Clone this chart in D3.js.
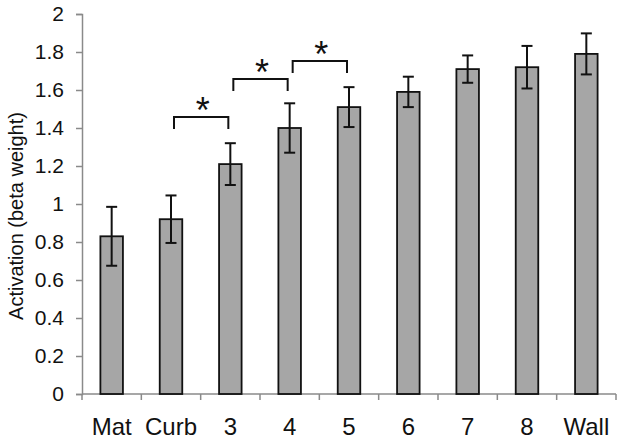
<!DOCTYPE html>
<html>
<head>
<meta charset="utf-8">
<script src="https://cdn.jsdelivr.net/npm/d3@7"></script>
<style>
  html, body { margin: 0; padding: 0; background: #fff; }
  svg { display: block; font-family: "Liberation Sans", Arial, sans-serif; }
</style>
</head>
<body>
<svg id="chart" width="624" height="444"></svg>
<script>
const categories = ["Mat", "Curb", "3", "4", "5", "6", "7", "8", "Wall"];
const values = [0.83, 0.92, 1.21, 1.40, 1.51, 1.59, 1.71, 1.72, 1.79];
const errors = [0.155, 0.125, 0.11, 0.13, 0.105, 0.08, 0.072, 0.112, 0.108];
const yTicks = [0, 0.2, 0.4, 0.6, 0.8, 1, 1.2, 1.4, 1.6, 1.8, 2];
const yTickLabels = ["0", "0.2", "0.4", "0.6", "0.8", "1", "1.2", "1.4", "1.6", "1.8", "2"];
const bracketFrom = ["Curb", "3", "4"];
const bracketTo = ["3", "4", "5"];
const bracketLevel = [1.458, 1.658, 1.753];
const bracketMark = ["*", "*", "*"];
const yTitle = "Activation (beta weight)";

const svg = d3.select("#chart");
const mLeft = 82, mRight = 616, mTop = 14, mBottom = 394;

const x = d3.scaleBand().domain(categories).range([mLeft, mRight])
  .paddingInner(0.595).paddingOuter(0.2975);
const y = d3.scaleLinear().domain([0, 2]).range([mBottom, mTop]);
const axisColor = "#8a8a8a";

// Y axis
const yAxis = d3.axisLeft(y).tickValues(yTicks)
  .tickFormat((d, i) => yTickLabels[i]).tickSize(6).tickPadding(12);
const gy = svg.append("g").attr("transform", `translate(${mLeft},0)`).call(yAxis);
gy.attr("font-family", null).attr("font-size", null);
gy.select(".domain").attr("stroke", axisColor).attr("stroke-width", 1.5);
gy.selectAll(".tick line").attr("stroke", axisColor).attr("stroke-width", 1.5);
gy.selectAll(".tick text").attr("font-size", 21).attr("fill", "#111");

// X axis (ticks at category boundaries)
const boundaries = d3.range(categories.length + 1).map(i => mLeft + i * (mRight - mLeft) / categories.length);
svg.append("line").attr("x1", mLeft).attr("x2", mRight).attr("y1", mBottom).attr("y2", mBottom)
  .attr("stroke", axisColor).attr("stroke-width", 1.5);
svg.append("g").selectAll("line").data(boundaries).join("line")
  .attr("x1", d => d).attr("x2", d => d).attr("y1", mBottom).attr("y2", mBottom + 6)
  .attr("stroke", axisColor).attr("stroke-width", 1.5);
svg.append("g").selectAll("text").data(categories).join("text")
  .attr("x", d => x(d) + x.bandwidth() / 2).attr("y", 435)
  .attr("text-anchor", "middle").attr("font-size", 24).attr("fill", "#111")
  .text(d => d);

// Bars
svg.append("g").selectAll("rect").data(categories).join("rect")
  .attr("x", d => x(d) + 0.75).attr("width", x.bandwidth() - 1.5)
  .attr("y", (d, i) => y(values[i])).attr("height", (d, i) => y(0) - y(values[i]))
  .attr("fill", "#a6a6a6").attr("stroke", "#111").attr("stroke-width", 1.8);

// Error bars
const eb = svg.append("g").attr("stroke", "#111").attr("stroke-width", 2);
categories.forEach((c, i) => {
  const cx = x(c) + x.bandwidth() / 2;
  const hi = y(values[i] + errors[i]), lo = y(values[i] - errors[i]);
  eb.append("line").attr("x1", cx).attr("x2", cx).attr("y1", hi).attr("y2", lo);
  eb.append("line").attr("x1", cx - 5.5).attr("x2", cx + 5.5).attr("y1", hi).attr("y2", hi);
  eb.append("line").attr("x1", cx - 5.5).attr("x2", cx + 5.5).attr("y1", lo).attr("y2", lo);
});

// Significance brackets
const br = svg.append("g");
bracketFrom.forEach((a, i) => {
  const xa = x(a) + x.bandwidth() / 2 + 3;
  const xb = x(bracketTo[i]) + x.bandwidth() / 2 - 2;
  const yb = y(bracketLevel[i]);
  br.append("path")
    .attr("d", `M${xa},${yb + 12}V${yb}H${xb}V${yb + 12}`)
    .attr("fill", "none").attr("stroke", "#111").attr("stroke-width", 2);
  br.append("text").attr("x", (xa + xb) / 2 + 1.5).attr("y", yb + 6)
    .attr("text-anchor", "middle").attr("font-size", 36).attr("fill", "#111")
    .text(bracketMark[i]);
});

// Y title
svg.append("text")
  .attr("transform", `translate(23,${(mTop + mBottom) / 2 + 12}) rotate(-90)`)
  .attr("text-anchor", "middle").attr("font-size", 20).attr("fill", "#111")
  .text(yTitle);
</script>
</body>
</html>
